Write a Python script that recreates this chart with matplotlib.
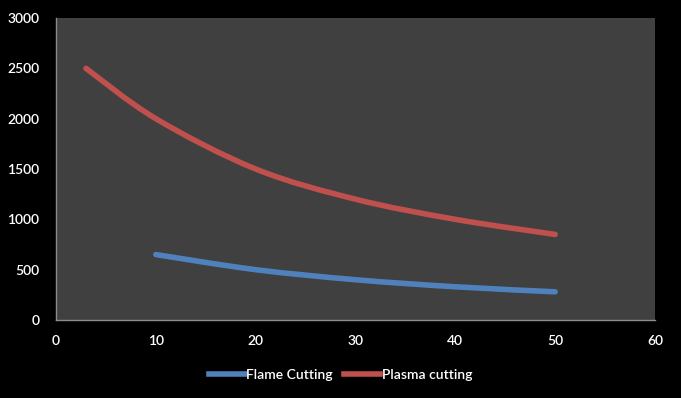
import numpy as np
import matplotlib
matplotlib.use("Agg")
import matplotlib.pyplot as plt
from matplotlib.path import Path
from matplotlib.patches import PathPatch
from matplotlib.lines import Line2D

flame_x = [10, 20, 30, 40, 50]
flame_y = [650, 500, 400, 330, 280]
plasma_x = [3, 10, 20, 30, 40, 50]
plasma_y = [2500, 2000, 1500, 1200, 1000, 850]
series_names = ["Flame Cutting", "Plasma cutting"]
x_ticks = [0, 10, 20, 30, 40, 50, 60]
y_ticks = [0, 500, 1000, 1500, 2000, 2500, 3000]

BLUE = "#4F81BD"
RED = "#C0504D"

plt.rcParams['font.family'] = ['Lato', 'DejaVu Sans']
plt.rcParams['font.weight'] = 600

fig = plt.figure(figsize=(6.81, 3.98), dpi=100, facecolor="black")
ax = fig.add_axes([56/681, 78/398, (655-56)/681, (320-18)/398])
ax.set_facecolor("#404040")


def smooth_path(xs, ys):
    # Excel-style smoothed line: cubic Bezier segments through the data points
    p = np.column_stack([xs, ys]).astype(float)
    n = len(p)
    verts = [p[0]]
    codes = [Path.MOVETO]
    for i in range(n - 1):
        p0 = p[i - 1] if i > 0 else p[i]
        p1 = p[i]
        p2 = p[i + 1]
        p3 = p[i + 2] if i + 2 < n else p[i + 1]
        c1 = p1 + (p2 - p0) / 6.0
        c2 = p2 - (p3 - p1) / 6.0
        verts += [c1, c2, p2]
        codes += [Path.CURVE4] * 3
    return Path(verts, codes)


for xs, ys, col in [(flame_x, flame_y, BLUE), (plasma_x, plasma_y, RED)]:
    patch = PathPatch(smooth_path(xs, ys), facecolor="none", edgecolor=col,
                      linewidth=4.0, capstyle="round", joinstyle="round")
    ax.add_patch(patch)

ax.set_xlim(0, 60)
ax.set_ylim(0, 3000)
ax.set_xticks(x_ticks)
ax.set_yticks(y_ticks)
ax.tick_params(axis="both", length=0, colors="white", labelsize=10)
ax.tick_params(axis="y", pad=12)
ax.tick_params(axis="x", pad=11)
for s in ["top", "right"]:
    ax.spines[s].set_visible(False)
for s in ["left", "bottom"]:
    ax.spines[s].set_color("#8C8C8C")
    ax.spines[s].set_linewidth(1.0)

handles = [Line2D([], [], color=BLUE, linewidth=4.0),
           Line2D([], [], color=RED, linewidth=4.0)]
leg = fig.legend(handles, series_names, loc="center", bbox_to_anchor=(0.5, (398-375)/398),
                 ncol=2, frameon=False, handlelength=2.6, handletextpad=0.1,
                 columnspacing=0.8, fontsize=10)
for t in leg.get_texts():
    t.set_color("white")

fig.savefig("out.png", dpi=100, facecolor="black")
